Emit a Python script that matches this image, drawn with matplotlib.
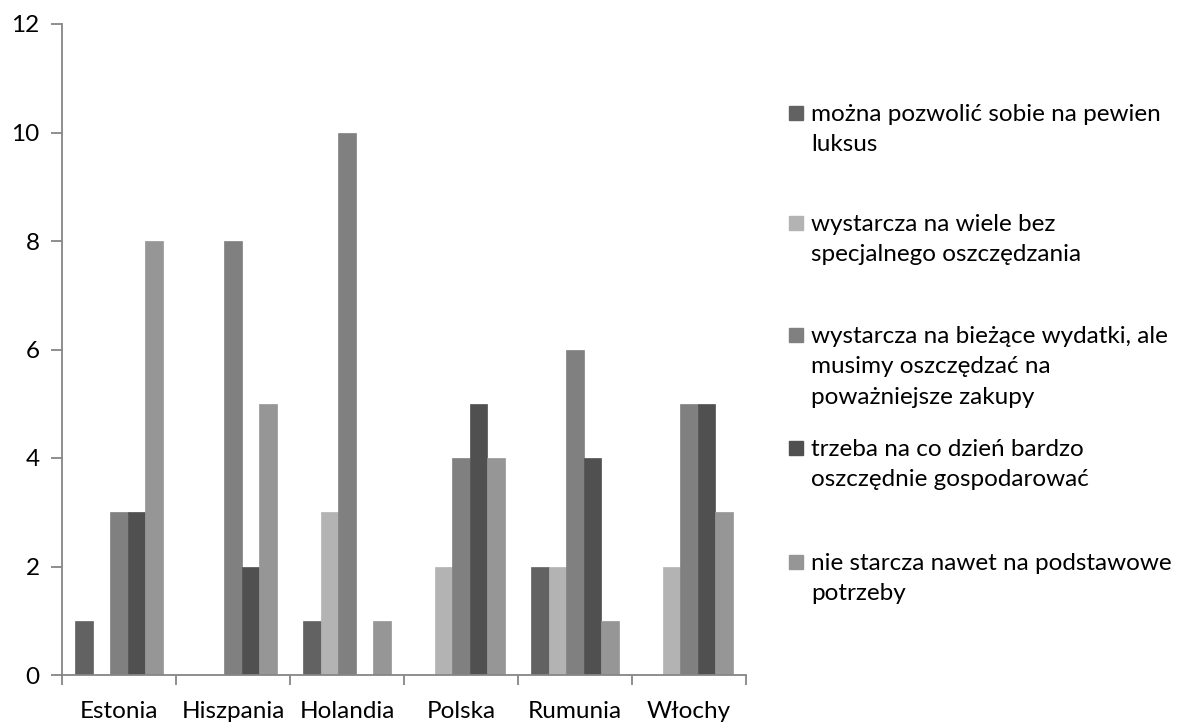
import numpy as np
import matplotlib
matplotlib.use("Agg")
import matplotlib.pyplot as plt
from matplotlib.patches import Rectangle

plt.rcParams['font.family'] = ['Lato', 'DejaVu Sans']

# ── data ──────────────────────────────────────────────────────────────────────
countries = ["Estonia", "Hiszpania", "Holandia", "Polska", "Rumunia", "Włochy"]
series_labels = [
    "można pozwolić sobie na pewien\nluksus",
    "wystarcza na wiele bez\nspecjalnego oszczędzania",
    "wystarcza na bieżące wydatki, ale\nmusimy oszczędzać na\npoważniejsze zakupy",
    "trzeba na co dzień bardzo\noszczędnie gospodarować",
    "nie starcza nawet na podstawowe\npotrzeby",
]
luksus = [1, 0, 1, 0, 2, 0]
bez_oszczedzania = [0, 0, 3, 2, 2, 2]
biezace_wydatki = [3, 8, 10, 4, 6, 5]
oszczednie = [3, 2, 0, 5, 4, 5]
nie_starcza = [8, 5, 1, 4, 1, 3]
values = [luksus, bez_oszczedzania, biezace_wydatki, oszczednie, nie_starcza]
colors = ["#626262", "#b3b3b3", "#808080", "#505050", "#969696"]

FS = 17.5

# ── plot ──────────────────────────────────────────────────────────────────────
fig = plt.figure(figsize=(11.83, 7.25), dpi=100)
ax = fig.add_axes([62 / 1183, 50 / 725, 684 / 1183, 651 / 725])

n = len(values)
width = 1 / (n + 1.5)
x = np.arange(len(countries))
for i, (vals, col) in enumerate(zip(values, colors)):
    ax.bar(x + 0.5 + (i - (n - 1) / 2) * width, vals, width=width, color=col,
           edgecolor=col, linewidth=0.5)

ax.set_xlim(0, len(countries))
ax.set_ylim(0, 12)
ax.set_yticks(range(0, 13, 2))
ax.set_xticks(np.arange(len(countries) + 1))
ax.set_xticklabels([])
ax.set_xticks(x + 0.5, minor=True)
ax.set_xticklabels(countries, minor=True)
ax.tick_params(axis='x', which='minor', length=0, pad=19, labelsize=FS)
ax.tick_params(axis='x', which='major', length=7, color='#868686', width=1.3)
ax.tick_params(axis='y', length=8, color='#868686', width=1.3, pad=8, labelsize=FS)

for side in ['top', 'right']:
    ax.spines[side].set_visible(False)
for side in ['left', 'bottom']:
    ax.spines[side].set_color('#868686')
    ax.spines[side].set_linewidth(1.3)

# ── legend (drawn by hand, Excel style) ──────────────────────────────────────
legend_y = [113, 223, 335, 448, 562]  # pixel y of first line centre
for lab, col, py in zip(series_labels, colors, legend_y):
    fy = 1 - py / 725
    fig.patches.append(Rectangle((789 / 1183, fy - 7 / 725), 14 / 1183, 14 / 725,
                                 transform=fig.transFigure, color=col))
    fig.text(811 / 1183, fy + 9 / 725, lab, fontsize=FS, va='top', ha='left',
             linespacing=1.55)

plt.savefig("out.png", dpi=100)
